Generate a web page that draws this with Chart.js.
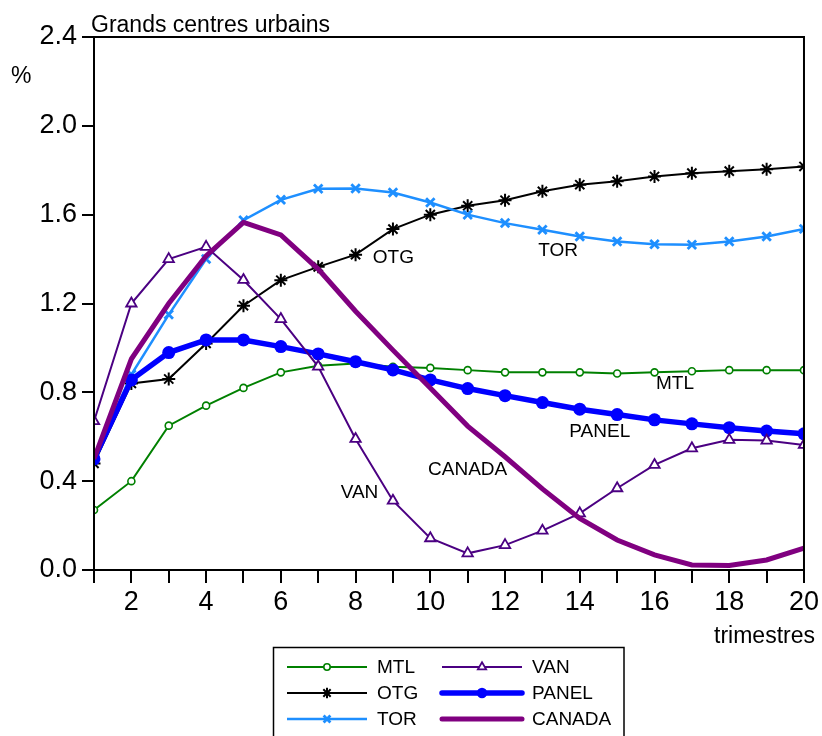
<!DOCTYPE html>
<html>
<head>
<meta charset="utf-8">
<script src="https://cdn.jsdelivr.net/npm/chart.js@4/dist/chart.umd.min.js"></script>
<style>
  html, body { margin: 0; padding: 0; background: #fff; }
  #wrap { width: 822px; height: 736px; }
</style>
</head>
<body>
<div id="wrap"><canvas id="c" width="822" height="736"></canvas></div>
<script>
// Quarters after the shock
const quarters = [1,2,3,4,5,6,7,8,9,10,11,12,13,14,15,16,17,18,19,20];

// Response of each urban centre (%)
const mtl    = [0.27,0.40,0.65,0.74,0.82,0.89,0.92,0.93,0.915,0.91,0.90,0.89,0.89,0.89,0.885,0.89,0.895,0.90,0.90,0.90];
const otg    = [0.48,0.84,0.86,1.02,1.19,1.305,1.365,1.42,1.535,1.60,1.64,1.665,1.705,1.735,1.75,1.772,1.787,1.796,1.805,1.817];
const tor    = [0.50,0.88,1.15,1.40,1.575,1.667,1.717,1.718,1.70,1.655,1.60,1.562,1.532,1.502,1.479,1.467,1.465,1.479,1.502,1.536];
const van    = [0.67,1.20,1.40,1.455,1.306,1.13,0.916,0.59,0.312,0.143,0.075,0.112,0.177,0.255,0.368,0.473,0.548,0.586,0.583,0.563];
const panel  = [0.50,0.856,0.979,1.036,1.036,1.006,0.973,0.938,0.901,0.856,0.817,0.785,0.754,0.724,0.70,0.676,0.658,0.641,0.626,0.613];
const canada = [0.50,0.95,1.20,1.414,1.565,1.509,1.355,1.165,0.99,0.82,0.648,0.51,0.365,0.232,0.135,0.068,0.023,0.02,0.045,0.098];

// Y axis ticks
const yTicks = [0.0, 0.4, 0.8, 1.2, 1.6, 2.0, 2.4];

// Series names written next to the curves (x in quarters, y in %)
const seriesTags = [
  { text: 'OTG',    x: 8.46,  y: 1.41 },
  { text: 'TOR',    x: 12.89, y: 1.441 },
  { text: 'MTL',    x: 16.04, y: 0.842 },
  { text: 'PANEL',  x: 13.72, y: 0.626 },
  { text: 'CANADA', x: 9.94,  y: 0.455 },
  { text: 'VAN',    x: 7.60,  y: 0.351 }
];

const FONT = '"Liberation Sans", Arial, Helvetica, sans-serif';

function pts(values) {
  return values.map((v, i) => ({ x: quarters[i], y: v }));
}

const series = [
  { label: 'MTL', data: pts(mtl), borderColor: '#008000', backgroundColor: '#ffffff',
    borderWidth: 2, pointStyle: 'circle', pointRadius: 3.5, pointBorderWidth: 1.6,
    pointBorderColor: '#008000', pointBackgroundColor: '#ffffff', order: 6 },
  { label: 'OTG', data: pts(otg), borderColor: '#000000', backgroundColor: '#000000',
    borderWidth: 2, pointStyle: 'star', pointRadius: 6.5, pointBorderWidth: 2,
    pointBorderColor: '#000000', order: 5 },
  { label: 'TOR', data: pts(tor), borderColor: '#1e8fff', backgroundColor: '#1e8fff',
    borderWidth: 2.5, pointStyle: 'crossRot', pointRadius: 6, pointBorderWidth: 2.8,
    pointBorderColor: '#1e8fff', order: 4 },
  { label: 'VAN', data: pts(van), borderColor: '#4b0082', backgroundColor: '#ffffff',
    borderWidth: 2, pointStyle: 'triangle', pointRadius: 6, pointBorderWidth: 1.8,
    pointBorderColor: '#4b0082', pointBackgroundColor: '#ffffff', order: 2 },
  { label: 'PANEL', data: pts(panel), borderColor: '#0000ff', backgroundColor: '#0000ff',
    borderWidth: 5.5, pointStyle: 'circle', pointRadius: 6.5, pointBorderWidth: 0,
    pointBackgroundColor: '#0000ff', order: 3 },
  { label: 'CANADA', data: pts(canada), borderColor: '#800080', backgroundColor: '#800080',
    borderWidth: 5, pointRadius: 0, order: 1 }
];

function drawMarker(ctx, style, x, y, r, stroke, fill, lw) {
  ctx.save();
  ctx.strokeStyle = stroke;
  ctx.fillStyle = fill;
  ctx.lineWidth = lw;
  ctx.beginPath();
  if (style === 'circle') {
    ctx.arc(x, y, r, 0, Math.PI * 2);
    ctx.fill();
    if (lw > 0) ctx.stroke();
  } else if (style === 'triangle') {
    const w = r * Math.sqrt(3) / 2;
    ctx.moveTo(x, y - r);
    ctx.lineTo(x + w, y + r / 2);
    ctx.lineTo(x - w, y + r / 2);
    ctx.closePath();
    ctx.fill();
    ctx.stroke();
  } else if (style === 'crossRot') {
    const d = r * 0.7071;
    ctx.moveTo(x - d, y - d); ctx.lineTo(x + d, y + d);
    ctx.moveTo(x - d, y + d); ctx.lineTo(x + d, y - d);
    ctx.stroke();
  } else if (style === 'star') {
    const d = r * 0.7071;
    ctx.moveTo(x - d, y - d); ctx.lineTo(x + d, y + d);
    ctx.moveTo(x - d, y + d); ctx.lineTo(x + d, y - d);
    ctx.moveTo(x, y - r); ctx.lineTo(x, y + r);
    ctx.moveTo(x - r, y); ctx.lineTo(x + r, y);
    ctx.stroke();
  }
  ctx.restore();
}

// Frame, titles, curve tags and the boxed legend
const decorations = {
  id: 'decorations',
  afterDraw(chart) {
    const { ctx, chartArea: a, scales } = chart;
    ctx.save();
    // frame round the plot
    ctx.strokeStyle = '#000';
    ctx.lineWidth = 2;
    ctx.strokeRect(a.left, a.top, a.right - a.left, a.bottom - a.top);

    ctx.fillStyle = '#000';
    ctx.textBaseline = 'alphabetic';
    ctx.textAlign = 'left';
    ctx.font = '23px ' + FONT;
    ctx.fillText('Grands centres urbains', 91, 31.5);
    ctx.fillText('%', 11, 83);
    ctx.textAlign = 'right';
    ctx.fillText('trimestres', 815, 643);

    // tags beside the curves
    ctx.textAlign = 'left';
    ctx.textBaseline = 'middle';
    ctx.font = '19px ' + FONT;
    seriesTags.forEach(t => {
      ctx.fillText(t.text, scales.x.getPixelForValue(t.x), scales.y.getPixelForValue(t.y) + 1);
    });

    // legend box
    ctx.lineWidth = 1.5;
    ctx.strokeStyle = '#000';
    ctx.strokeRect(273.5, 647.5, 350.5, 100);
    const cols = [{ x0: 287, x1: 367, tx: 377 }, { x0: 442, x1: 522, tx: 532 }];
    const rows = [667, 693, 719];
    chart.data.datasets.forEach((ds, i) => {
      const col = cols[Math.floor(i / 3)];
      const y = rows[i % 3];
      ctx.save();
      ctx.strokeStyle = ds.borderColor;
      ctx.lineWidth = ds.borderWidth;
      ctx.lineCap = ds.borderWidth > 3 ? 'round' : 'butt';
      ctx.beginPath();
      ctx.moveTo(col.x0, y);
      ctx.lineTo(col.x1, y);
      ctx.stroke();
      ctx.restore();
      if (ds.pointRadius > 0) {
        const r = ds.pointStyle === 'circle' && ds.pointBorderWidth > 0 ? 3.2 : ds.pointRadius * 0.8;
        drawMarker(ctx, ds.pointStyle, (col.x0 + col.x1) / 2, y, r,
          ds.pointBorderColor || ds.borderColor,
          ds.pointBackgroundColor || ds.borderColor,
          ds.pointBorderWidth || 0);
      }
      ctx.fillStyle = '#000';
      ctx.textAlign = 'left';
      ctx.textBaseline = 'middle';
      ctx.font = '19px ' + FONT;
      ctx.fillText(ds.label, col.tx, y + 1);
    });
    ctx.restore();
  }
};

new Chart(document.getElementById('c'), {
  type: 'line',
  data: { datasets: series },
  plugins: [decorations],
  options: {
    responsive: false,
    animation: false,
    devicePixelRatio: 1,
    layout: { autoPadding: false, padding: { top: 37, right: 18, left: 0, bottom: 0 } },
    plugins: { legend: { display: false }, tooltip: { enabled: false } },
    elements: { line: { tension: 0 } },
    scales: {
      x: {
        type: 'linear', min: 1, max: 20,
        afterFit(s) { s.height = 166; },
        afterBuildTicks(s) { s.ticks = quarters.map(q => ({ value: q })); },
        ticks: {
          autoSkip: false, maxRotation: 0, padding: 3,
          color: '#000', font: { family: FONT, size: 27 },
          callback: v => (v % 2 === 0 ? String(v) : '')
        },
        grid: { drawOnChartArea: false, drawTicks: true, tickLength: 13, color: '#000', lineWidth: 2 },
        border: { display: true, color: '#000', width: 2 }
      },
      y: {
        min: 0, max: 2.4,
        afterFit(s) { s.width = 94; },
        afterBuildTicks(s) { s.ticks = yTicks.map(v => ({ value: v })); },
        ticks: {
          padding: 5, color: '#000', font: { family: FONT, size: 27 },
          callback: v => Number(v).toFixed(1)
        },
        grid: { drawOnChartArea: false, drawTicks: true, tickLength: 12, color: '#000', lineWidth: 2 },
        border: { display: true, color: '#000', width: 2 }
      }
    }
  }
});
</script>
</body>
</html>
